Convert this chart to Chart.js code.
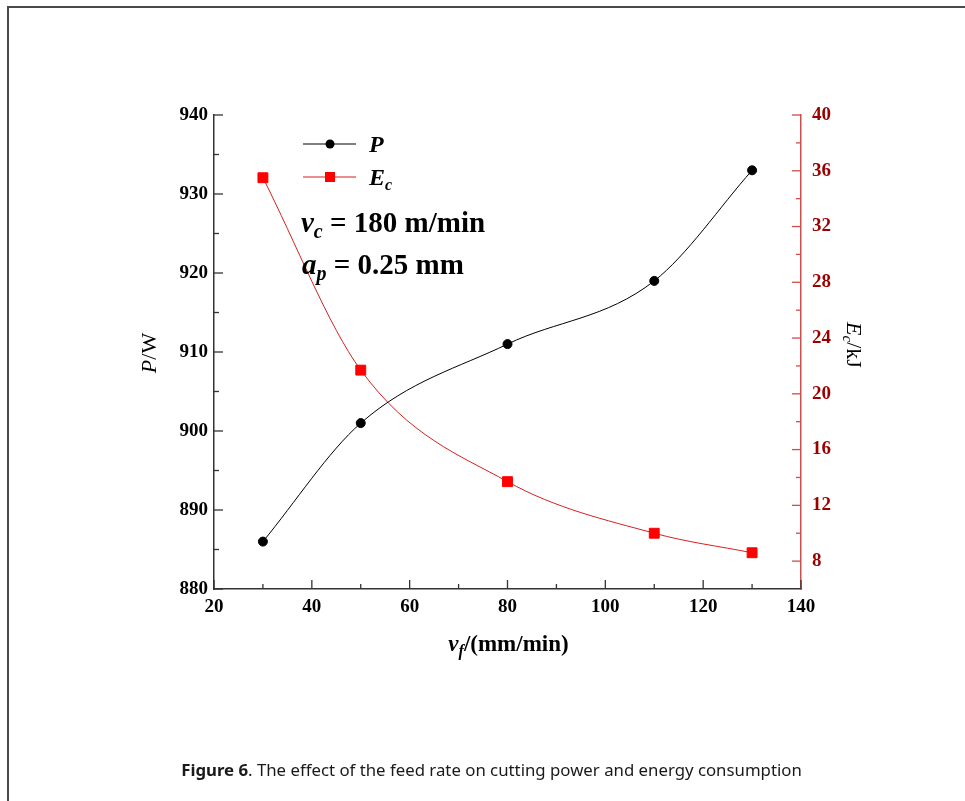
<!DOCTYPE html>
<html>
<head>
<meta charset="utf-8">
<script src="https://cdn.jsdelivr.net/npm/chart.js@4.4.1/dist/chart.umd.min.js"></script>
<style>
  html, body { margin: 0; padding: 0; background: #fff; }
  #wrap { position: relative; width: 965px; height: 801px; overflow: hidden; }
  #frame { position: absolute; left: 7px; top: 6px; width: 1000px; height: 900px;
           border-top: 2px solid #4a4a4a; border-left: 2px solid #4a4a4a; }
  #chart { position: absolute; left: 0; top: 0; }
  #caption { position: absolute; left: 9px; width: 965px; top: 758px; text-align: center;
             font-family: "Noto Sans", sans-serif; font-size: 16.8px; color: #1a1a1a; }
</style>
</head>
<body>
<div id="wrap">
  <div id="frame"></div>
  <canvas id="chart" width="965" height="801"></canvas>
  <div id="caption"><b>Figure 6</b>. The effect of the feed rate on cutting power and energy consumption</div>
</div>
<script>
// feed rate (mm/min)
const feedRates = [30, 50, 80, 110, 130];
// cutting power P (W)
const powerValues = [886, 901, 911, 919, 933];
// energy consumption Ec (kJ)
const energyValues = [35.5, 21.7, 13.7, 10.0, 8.6];
// right axis tick labels
const energyTicks = [8, 12, 16, 20, 24, 28, 32, 36, 40];

const SERIF = '"Liberation Serif", "Times New Roman", serif';
const RIGHT_RED = '#c8504d';
const TICK_FONT = { family: SERIF, size: 19, weight: 'bold' };

function toPoints(ys) {
  return feedRates.map((x, i) => ({ x: x, y: ys[i] }));
}

// inward major + minor tick marks
const tickMarks = {
  id: 'tickMarks',
  afterDraw(chart) {
    const ctx = chart.ctx;
    const area = chart.chartArea;
    const s = chart.scales;
    ctx.save();
    ctx.lineWidth = 1.3;

    const drawY = (scale, x, dir, color, majors, minorStep) => {
      ctx.strokeStyle = color;
      majors.forEach(v => {
        const y = scale.getPixelForValue(v);
        ctx.beginPath(); ctx.moveTo(x, y); ctx.lineTo(x + dir * 9, y); ctx.stroke();
        const m = v - minorStep;
        if (m > scale.min) {
          const ym = scale.getPixelForValue(m);
          ctx.beginPath(); ctx.moveTo(x, ym); ctx.lineTo(x + dir * 5, ym); ctx.stroke();
        }
      });
    };
    drawY(s.y, area.left, 1, '#333', s.y.ticks.map(t => t.value), 5);
    drawY(s.y1, area.right, -1, RIGHT_RED, s.y1.ticks.map(t => t.value), 2);

    ctx.strokeStyle = '#333';
    s.x.ticks.forEach(t => {
      const x = s.x.getPixelForValue(t.value);
      ctx.beginPath(); ctx.moveTo(x, area.bottom); ctx.lineTo(x, area.bottom - 9); ctx.stroke();
      const m = t.value + 10;
      if (m < s.x.max) {
        const xm = s.x.getPixelForValue(m);
        ctx.beginPath(); ctx.moveTo(xm, area.bottom); ctx.lineTo(xm, area.bottom - 5); ctx.stroke();
      }
    });
    ctx.restore();
  }
};

// legend, notes and axis titles with sub-scripts
const annotations = {
  id: 'annotations',
  afterDraw(chart) {
    const ctx = chart.ctx;
    const area = chart.chartArea;
    ctx.save();
    ctx.textBaseline = 'alphabetic';

    const sub = (x, y, main, subTxt, size, italicMain) => {
      ctx.font = (italicMain ? 'italic ' : '') + 'bold ' + size + 'px ' + SERIF;
      ctx.fillText(main, x, y);
      const w = ctx.measureText(main).width;
      ctx.font = 'italic bold ' + Math.round(size * 0.68) + 'px ' + SERIF;
      ctx.fillText(subTxt, x + w, y + size * 0.2);
      return x + w + ctx.measureText(subTxt).width;
    };

    // legend
    const lx = area.left + 89;
    const rows = [area.top + 29, area.top + 62];
    chart.data.datasets.forEach((ds, i) => {
      const y = rows[i];
      ctx.strokeStyle = ds.borderColor;
      ctx.lineWidth = 1.2;
      ctx.beginPath(); ctx.moveTo(lx, y); ctx.lineTo(lx + 53, y); ctx.stroke();
      ctx.fillStyle = ds.pointBackgroundColor;
      if (ds.pointStyle === 'rect') {
        ctx.fillRect(lx + 22, y - 5, 10, 10);
      } else {
        ctx.beginPath(); ctx.arc(lx + 27, y, 4.5, 0, Math.PI * 2); ctx.fill();
      }
      ctx.fillStyle = '#000';
      if (i === 0) {
        ctx.font = 'italic bold 24px ' + SERIF;
        ctx.fillText('P', lx + 66, y + 8);
      } else {
        sub(lx + 66, y + 8, 'E', 'c', 24, true);
      }
    });

    // cutting conditions
    ctx.fillStyle = '#000';
    let x = sub(area.left + 87, area.top + 117, 'v', 'c', 29, true);
    ctx.font = 'bold 29px ' + SERIF;
    ctx.fillText(' = 180 m/min', x, area.top + 117);
    x = sub(area.left + 88, area.top + 159, 'a', 'p', 29, true);
    ctx.font = 'bold 29px ' + SERIF;
    ctx.fillText(' = 0.25 mm', x, area.top + 159);

    // x title
    ctx.font = 'italic bold 23px ' + SERIF;
    const vw = ctx.measureText('v').width;
    ctx.font = 'italic bold 16px ' + SERIF;
    const fw = ctx.measureText('f').width;
    ctx.font = 'bold 23px ' + SERIF;
    const rest = '/(mm/min)';
    const tw = vw + fw + ctx.measureText(rest).width;
    const x0 = (area.left + area.right) / 2 + 1 - tw / 2;
    x = sub(x0, 651, 'v', 'f', 23, true);
    ctx.font = 'bold 23px ' + SERIF;
    ctx.fillText(rest, x, 651);

    // left title
    ctx.save();
    ctx.translate(156, 353);
    ctx.rotate(-Math.PI / 2);
    ctx.font = 'italic 22px ' + SERIF;
    const pw = ctx.measureText('P').width;
    ctx.font = '22px ' + SERIF;
    const ww = ctx.measureText('/W').width;
    ctx.font = 'italic 22px ' + SERIF;
    ctx.fillText('P', -(pw + ww) / 2, 0);
    ctx.font = '22px ' + SERIF;
    ctx.fillText('/W', -(pw + ww) / 2 + pw, 0);
    ctx.restore();

    // right title
    ctx.save();
    ctx.translate(847, 345);
    ctx.rotate(Math.PI / 2);
    ctx.font = 'italic 22px ' + SERIF;
    const ew = ctx.measureText('E').width;
    ctx.font = 'italic 15px ' + SERIF;
    const cw = ctx.measureText('c').width;
    ctx.font = '22px ' + SERIF;
    const kw = ctx.measureText('/kJ').width;
    const rx = -(ew + cw + kw) / 2;
    ctx.font = 'italic 22px ' + SERIF;
    ctx.fillText('E', rx, 0);
    ctx.font = 'italic 15px ' + SERIF;
    ctx.fillText('c', rx + ew, 4);
    ctx.font = '22px ' + SERIF;
    ctx.fillText('/kJ', rx + ew + cw, 0);
    ctx.restore();

    ctx.restore();
  }
};

new Chart(document.getElementById('chart').getContext('2d'), {
  type: 'line',
  data: {
    datasets: [
      {
        label: 'P',
        data: toPoints(powerValues),
        yAxisID: 'y',
        borderColor: '#000',
        backgroundColor: '#000',
        pointBackgroundColor: '#000',
        pointBorderColor: '#000',
        pointStyle: 'circle',
        pointRadius: 4.5,
        borderWidth: 1,
        cubicInterpolationMode: 'monotone',
        clip: false
      },
      {
        label: 'Ec',
        data: toPoints(energyValues),
        yAxisID: 'y1',
        borderColor: '#d42020',
        backgroundColor: '#ff0000',
        pointBackgroundColor: '#ff0000',
        pointBorderColor: '#ff0000',
        pointStyle: 'rect',
        pointRadius: 7,
        borderWidth: 1,
        cubicInterpolationMode: 'monotone',
        clip: false
      }
    ]
  },
  options: {
    responsive: false,
    animation: false,
    layout: { padding: { top: 115, left: 0, right: 0, bottom: 0 } },
    plugins: {
      legend: { display: false },
      tooltip: { enabled: false }
    },
    scales: {
      x: {
        type: 'linear',
        min: 20,
        max: 140,
        afterFit: (s) => { s.height = 212; },
        ticks: { stepSize: 20, color: '#000', padding: 7, font: TICK_FONT },
        grid: { drawOnChartArea: false, drawTicks: false },
        border: { display: true, color: '#333', width: 1.5 }
      },
      y: {
        position: 'left',
        min: 880,
        max: 940,
        afterFit: (s) => { s.width = 214; },
        ticks: { stepSize: 10, color: '#000', padding: 6, font: TICK_FONT },
        grid: { drawOnChartArea: false, drawTicks: false },
        border: { display: true, color: '#333', width: 1.5 }
      },
      y1: {
        position: 'right',
        min: 6,
        max: 40,
        afterFit: (s) => { s.width = 164; },
        afterBuildTicks: (s) => { s.ticks = energyTicks.map(v => ({ value: v })); },
        ticks: { color: '#9b0000', padding: 11, font: TICK_FONT },
        grid: { drawOnChartArea: false, drawTicks: false },
        border: { display: true, color: RIGHT_RED, width: 1.5 }
      }
    }
  },
  plugins: [tickMarks, annotations]
});
</script>
</body>
</html>
